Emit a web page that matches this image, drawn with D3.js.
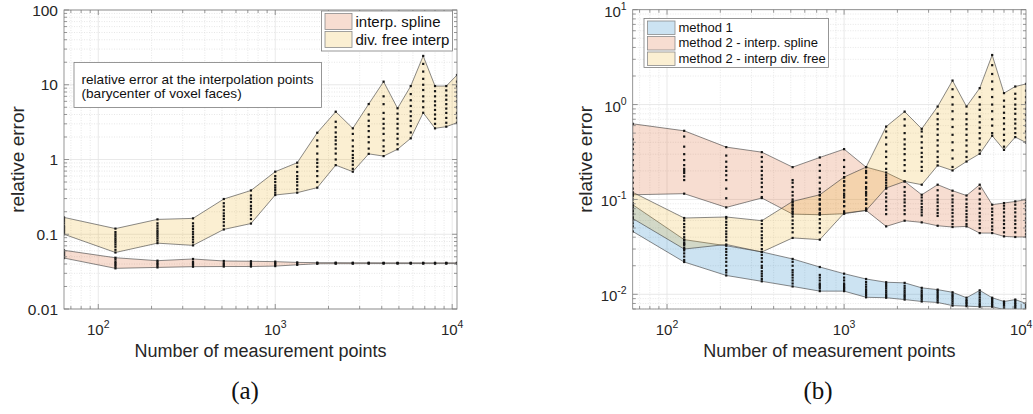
<!DOCTYPE html>
<html>
<head>
<meta charset="utf-8">
<script src="https://cdn.jsdelivr.net/npm/d3@7"></script>
<style>
body { margin: 0; background: #fff; }
svg { font-family: "Liberation Sans", Arial, Helvetica, sans-serif; }
</style>
</head>
<body>
<svg id="fig" width="1033" height="414"></svg>
<script>
// number of measurement points (k^3, k = 4..22)
var N = [64, 125, 216, 343, 512, 729, 1000, 1331, 1728, 2197, 2744, 3375, 4096, 4913, 5832, 6859, 8000, 9261, 10648];

// ---- panel (a) ----
var splineHi = [0.061, 0.0485, 0.0443, 0.0467, 0.0439, 0.0435, 0.043, 0.042, 0.0417, 0.0417, 0.0416, 0.0416, 0.0415, 0.0415, 0.0415, 0.0415, 0.0415, 0.0415, 0.0415];
var splineLo = [0.048, 0.035, 0.036, 0.0368, 0.037, 0.037, 0.0375, 0.039, 0.0403, 0.0404, 0.0404, 0.0405, 0.0405, 0.0405, 0.0405, 0.0405, 0.0405, 0.0405, 0.0405];
var splinePts = [
  [0.05, 0.052, 0.054, 0.056, 0.058], [0.037, 0.039, 0.041, 0.043, 0.046], [0.038, 0.04, 0.042], [0.039, 0.041, 0.043],
  [0.039, 0.041], [0.039, 0.041], [0.0395, 0.041], [0.0405], [0.041], [0.041], [0.041], [0.041], [0.041],
  [0.041], [0.041], [0.041], [0.041], [0.041], [0.041]
];
var divHi = [0.168, 0.119, 0.158, 0.163, 0.296, 0.385, 0.687, 0.906, 2.28, 4.36, 2.61, 5.52, 11.0, 4.84, 9.6, 24.3, 9.6, 9.6, 13.5];
var divLo = [0.100, 0.057, 0.076, 0.071, 0.116, 0.139, 0.335, 0.36, 0.42, 0.84, 0.687, 1.19, 1.11, 1.37, 1.92, 4.22, 2.61, 2.75, 3.1];
var divPts = [
  [0.105, 0.11, 0.115, 0.12, 0.125, 0.13, 0.14, 0.15, 0.16],
  [0.062, 0.068, 0.073, 0.078, 0.083, 0.088, 0.094, 0.1, 0.107],
  [0.082, 0.088, 0.094, 0.1, 0.106, 0.112, 0.12, 0.13, 0.14],
  [0.078, 0.085, 0.092, 0.1, 0.108, 0.118, 0.128, 0.14],
  [0.13, 0.145, 0.16, 0.175, 0.19, 0.21, 0.235, 0.26],
  [0.16, 0.18, 0.2, 0.22, 0.24, 0.27, 0.3, 0.33],
  [0.36, 0.39, 0.42, 0.45, 0.5, 0.55, 0.6],
  [0.4, 0.45, 0.5, 0.55, 0.6, 0.68, 0.8],
  [0.5, 0.6, 0.7, 0.8, 0.9, 1.0, 1.2, 1.5, 1.8],
  [1.0, 1.2, 1.4, 1.6, 1.8, 2.0, 2.3, 2.7, 3.2],
  [0.75, 0.85, 0.95, 1.05, 1.15, 1.3, 1.5, 1.8, 2.2],
  [1.4, 1.7, 2.0, 2.4, 2.8, 3.3, 4.0],
  [1.3, 1.5, 1.8, 2.2, 2.6, 3.0, 3.5, 4.2, 5.5, 7],
  [1.6, 1.9, 2.2, 2.6, 3.0, 3.5, 4.1],
  [2.3, 2.8, 3.3, 3.8, 4.4, 5.2, 6.2, 7.5],
  [5, 6, 7, 8.5, 10, 12, 15, 19],
  [3.0, 3.5, 4.0, 4.6, 5.3, 6.0, 7.0, 8.2],
  [3.1, 3.6, 4.2, 4.8, 5.5, 6.3, 7.2, 8.4],
  [3.6, 4.2, 5, 6, 7, 8, 9.5, 11]
];

// ---- panel (b) ----
var m1Hi = [0.088, 0.0377, 0.0325, 0.028, 0.0236, 0.0194, 0.0165, 0.0145, 0.0134, 0.0132, 0.0117, 0.0112, 0.0105, 0.0092, 0.011, 0.0092, 0.0084, 0.0088, 0.008];
var m1Lo = [0.046, 0.0219, 0.0158, 0.0137, 0.0121, 0.0108, 0.0108, 0.0093, 0.0092, 0.0088, 0.0084, 0.0082, 0.0076, 0.0075, 0.0074, 0.0074, 0.0069, 0.0069, 0.0069];
var m1Pts = [
  [0.052, 0.056, 0.06, 0.065, 0.07, 0.075, 0.082],
  [0.023, 0.025, 0.027, 0.029, 0.031, 0.033, 0.035],
  [0.017, 0.018, 0.02, 0.022, 0.024, 0.026, 0.028, 0.03],
  [0.0145, 0.0155, 0.0165, 0.0175, 0.019, 0.02, 0.022, 0.024, 0.026],
  [0.013, 0.014, 0.015, 0.016, 0.017, 0.018, 0.02, 0.022],
  [0.0115, 0.012, 0.0125, 0.013, 0.014, 0.015, 0.016],
  [0.0112, 0.0116, 0.012, 0.0125, 0.013, 0.014, 0.015],
  [0.0098, 0.0103, 0.0108, 0.0113, 0.012, 0.0127, 0.0135],
  [0.0096, 0.01, 0.0105, 0.011, 0.0116, 0.0122, 0.0128],
  [0.0092, 0.0096, 0.01, 0.0105, 0.011, 0.0116, 0.0123],
  [0.0088, 0.0092, 0.0096, 0.01, 0.0105, 0.011],
  [0.0086, 0.009, 0.0094, 0.0098, 0.0103, 0.0108],
  [0.008, 0.0084, 0.0088, 0.0092, 0.0096, 0.01],
  [0.0078, 0.0081, 0.0084, 0.0087],
  [0.0077, 0.008, 0.0084, 0.0088, 0.0093, 0.0099, 0.0104],
  [0.0077, 0.008, 0.0083, 0.0086, 0.0089],
  [0.0072, 0.0075, 0.0078, 0.0081],
  [0.0072, 0.0075, 0.0078, 0.0081, 0.0085],
  [0.0072, 0.0075, 0.0078]
];
var m2sHi = [0.627, 0.529, 0.356, 0.315, 0.219, 0.277, 0.339, 0.219, 0.192, 0.155, 0.112, 0.143, 0.1236, 0.110, 0.143, 0.088, 0.0916, 0.0953, 0.0993];
var m2sLo = [0.112, 0.115, 0.0824, 0.1035, 0.070, 0.069, 0.0707, 0.0766, 0.052, 0.0597, 0.0573, 0.0528, 0.0512, 0.052, 0.0442, 0.0442, 0.0408, 0.0402, 0.0402];
var m2sPts = [
  [0.13, 0.15, 0.17, 0.2, 0.23, 0.26, 0.3, 0.34, 0.38, 0.43],
  [0.16, 0.175, 0.19, 0.2, 0.21, 0.23, 0.26, 0.3, 0.36, 0.46],
  [0.103, 0.13, 0.16, 0.18, 0.2, 0.22, 0.25, 0.29],
  [0.106, 0.12, 0.135, 0.15, 0.165, 0.18, 0.2, 0.22, 0.25, 0.28],
  [0.075, 0.08, 0.086, 0.093, 0.1, 0.11, 0.12, 0.135, 0.15, 0.16],
  [0.072, 0.08, 0.09, 0.1, 0.11, 0.12, 0.13, 0.15, 0.17, 0.2, 0.23],
  [0.085, 0.095, 0.105, 0.115, 0.125, 0.14, 0.155, 0.17, 0.19, 0.22, 0.26],
  [0.08, 0.09, 0.1, 0.11, 0.12, 0.135, 0.15, 0.17, 0.19],
  [0.07, 0.078, 0.085, 0.095, 0.105, 0.115, 0.13, 0.15, 0.17],
  [0.07, 0.077, 0.085, 0.093, 0.1, 0.11, 0.12, 0.135],
  [0.068, 0.073, 0.078, 0.083, 0.09, 0.097, 0.105],
  [0.067, 0.072, 0.078, 0.085, 0.093, 0.1, 0.11, 0.125],
  [0.055, 0.06, 0.066, 0.072, 0.078, 0.085, 0.093, 0.1, 0.11],
  [0.055, 0.06, 0.065, 0.07, 0.076, 0.083, 0.09, 0.1],
  [0.05, 0.055, 0.06, 0.066, 0.072, 0.08, 0.09, 0.1, 0.115, 0.13],
  [0.048, 0.052, 0.057, 0.062, 0.068, 0.074, 0.08],
  [0.045, 0.05, 0.055, 0.06, 0.066, 0.073, 0.08, 0.086],
  [0.045, 0.05, 0.055, 0.06, 0.066, 0.073, 0.08, 0.088],
  [0.043, 0.047, 0.052, 0.057, 0.063, 0.07, 0.077, 0.085, 0.092]
];
var m2dHi = [0.119, 0.0637, 0.0653, 0.0597, 0.0953, 0.112, 0.172, 0.219, 0.586, 0.843, 0.555, 0.953, 1.79, 0.953, 1.49, 3.33, 1.32, 1.55, 1.65];
var m2dLo = [0.063, 0.030, 0.0335, 0.0279, 0.0393, 0.0377, 0.0717, 0.0766, 0.132, 0.155, 0.143, 0.228, 0.202, 0.251, 0.303, 0.469, 0.333, 0.454, 0.398];
var m2dPts = [
  [0.07, 0.075, 0.08, 0.086, 0.092, 0.1, 0.108, 0.115],
  [0.034, 0.037, 0.04, 0.043, 0.047, 0.051, 0.055, 0.06],
  [0.037, 0.04, 0.043, 0.046, 0.05, 0.054, 0.058, 0.063],
  [0.03, 0.033, 0.036, 0.039, 0.042, 0.046, 0.05, 0.055],
  [0.045, 0.05, 0.055, 0.06, 0.066, 0.073, 0.08, 0.088],
  [0.045, 0.05, 0.056, 0.062, 0.07, 0.078, 0.088, 0.1],
  [0.075, 0.085, 0.095, 0.11, 0.125, 0.14, 0.155],
  [0.08, 0.09, 0.1, 0.115, 0.13, 0.15, 0.17, 0.2],
  [0.14, 0.16, 0.18, 0.21, 0.24, 0.28, 0.32, 0.38, 0.45, 0.52],
  [0.2, 0.23, 0.26, 0.3, 0.34, 0.38, 0.43, 0.5, 0.6, 0.7],
  [0.2, 0.22, 0.25, 0.28, 0.31, 0.35, 0.4, 0.46, 0.52],
  [0.25, 0.28, 0.32, 0.37, 0.42, 0.48, 0.55, 0.62, 0.7, 0.8],
  [0.22, 0.27, 0.33, 0.4, 0.48, 0.58, 0.7, 0.85, 1.0, 1.2, 1.45],
  [0.28, 0.32, 0.37, 0.42, 0.48, 0.55, 0.62, 0.7, 0.8],
  [0.33, 0.38, 0.44, 0.5, 0.57, 0.65, 0.75, 0.88, 1.0, 1.2],
  [0.5, 0.6, 0.7, 0.85, 1.0, 1.2, 1.45, 1.75, 2.1, 2.6],
  [0.36, 0.42, 0.48, 0.55, 0.63, 0.72, 0.82, 0.95, 1.1],
  [0.5, 0.56, 0.63, 0.7, 0.8, 0.9, 1.0, 1.15, 1.3],
  [0.45, 0.52, 0.6, 0.68, 0.78, 0.9, 1.05, 1.2, 1.4]
];

// tick labels
var xTickVals = [100, 1000, 10000];
var xTickExp = ["2", "3", "4"];
var yTickValsA = [0.01, 0.1, 1, 10, 100];
var yTickLabA = ["0.01", "0.1", "1", "10", "100"];
var yTickValsB = [0.01, 0.1, 1, 10];
var yTickExpB = ["-2", "-1", "0", "1"];

var FILL = {
  blue: "rgba(0,114,189,0.2)",
  orange: "rgba(217,83,25,0.2)",
  yellow: "rgba(237,177,32,0.2)"
};
var TXT = "#262626";

var svg = d3.select("#fig");
var defs = svg.append("defs");

function logSteps(dom) {
  var lo = dom[0], hi = dom[1], major = [], minor = [];
  for (var e = Math.floor(Math.log10(lo)) - 1; e <= Math.ceil(Math.log10(hi)); e++) {
    for (var m = 1; m < 10; m++) {
      var t = +(m * Math.pow(10, e)).toPrecision(6);
      if (t < lo * 0.9999 || t > hi * 1.0001) continue;
      if (m == 1) major.push(t); else minor.push(t);
    }
  }
  return {major: major, minor: minor};
}

function drawPanel(p) {
  var g = svg.append("g");
  var x = d3.scaleLog().domain([N[0], N[N.length - 1]]).range([p.left, p.right]);
  var y = d3.scaleLog().domain(p.ydom).range([p.bottom, p.top]);
  var xs = logSteps(x.domain()), ys = logSteps(y.domain());

  // grid
  var grid = g.append("g");
  grid.selectAll(".xm").data(xs.minor).enter().append("line")
    .attr("x1", function (d) { return x(d); }).attr("x2", function (d) { return x(d); })
    .attr("y1", p.top).attr("y2", p.bottom)
    .attr("stroke", "#d6d6d6").attr("stroke-width", 0.6).attr("stroke-dasharray", "1,1.5");
  grid.selectAll(".ym").data(ys.minor).enter().append("line")
    .attr("y1", function (d) { return y(d); }).attr("y2", function (d) { return y(d); })
    .attr("x1", p.left).attr("x2", p.right)
    .attr("stroke", "#d6d6d6").attr("stroke-width", 0.6).attr("stroke-dasharray", "1,1.5");
  grid.selectAll(".xM").data(xs.major).enter().append("line")
    .attr("x1", function (d) { return x(d); }).attr("x2", function (d) { return x(d); })
    .attr("y1", p.top).attr("y2", p.bottom)
    .attr("stroke", "#e3e3e3").attr("stroke-width", 0.8);
  grid.selectAll(".yM").data(ys.major).enter().append("line")
    .attr("y1", function (d) { return y(d); }).attr("y2", function (d) { return y(d); })
    .attr("x1", p.left).attr("x2", p.right)
    .attr("stroke", "#e3e3e3").attr("stroke-width", 0.8);

  // clip
  defs.append("clipPath").attr("id", p.id + "clip").append("rect")
    .attr("x", p.left).attr("y", p.top).attr("width", p.right - p.left).attr("height", p.bottom - p.top);
  var plot = g.append("g").attr("clip-path", "url(#" + p.id + "clip)");

  var area = d3.area()
    .x(function (d) { return x(d.n); })
    .y0(function (d) { return y(d.lo); })
    .y1(function (d) { return y(d.hi); });

  p.series.forEach(function (s) {
    var rows = N.map(function (n, i) { return {n: n, lo: s.lo[i], hi: s.hi[i]}; });
    plot.append("path").datum(rows)
      .attr("d", area)
      .attr("fill", s.fill)
      .attr("stroke", "#3a3a3a").attr("stroke-width", 0.6).attr("stroke-linejoin", "round");
  });
  p.series.forEach(function (s) {
    var dots = [];
    N.forEach(function (n, i) {
      [s.lo[i], s.hi[i]].concat(s.pts[i]).forEach(function (v) { dots.push({n: n, v: v}); });
    });
    plot.selectAll(null).data(dots).enter().append("rect")
      .attr("x", function (d) { return x(d.n) - 1.1; })
      .attr("y", function (d) { return y(d.v) - 1.1; })
      .attr("width", 2.2).attr("height", 2.2)
      .attr("fill", "#141414");
  });

  // box + ticks
  var ax = g.append("g").attr("stroke", "#7d7d7d").attr("stroke-width", 0.8);
  ax.append("rect").attr("x", p.left).attr("y", p.top)
    .attr("width", p.right - p.left).attr("height", p.bottom - p.top).attr("fill", "none");
  function xt(vals, len) {
    vals.forEach(function (v) {
      ax.append("line").attr("x1", x(v)).attr("x2", x(v)).attr("y1", p.bottom).attr("y2", p.bottom - len);
      ax.append("line").attr("x1", x(v)).attr("x2", x(v)).attr("y1", p.top).attr("y2", p.top + len);
    });
  }
  function yt(vals, len) {
    vals.forEach(function (v) {
      ax.append("line").attr("y1", y(v)).attr("y2", y(v)).attr("x1", p.left).attr("x2", p.left + len);
      ax.append("line").attr("y1", y(v)).attr("y2", y(v)).attr("x1", p.right).attr("x2", p.right - len);
    });
  }
  xt(xs.major, 5); xt(xs.minor, 3);
  yt(ys.major, 5); yt(ys.minor, 3);

  // x tick labels (10^k)
  xTickVals.forEach(function (v, i) {
    var t = g.append("text").attr("x", x(v)).attr("y", p.bottom + 26)
      .attr("text-anchor", "middle").attr("fill", TXT).style("font-size", "15px");
    t.append("tspan").text("10");
    t.append("tspan").attr("dy", -7).style("font-size", "10.5px").text(xTickExp[i]);
  });

  // y tick labels
  p.yTickVals.forEach(function (v, i) {
    var t = g.append("text").attr("x", p.left - 6).attr("y", y(v) + (p.yExp ? 7 : 5.5))
      .attr("text-anchor", "end").attr("fill", TXT).style("font-size", "15.5px");
    if (p.yExp) {
      t.style("font-size", "15px");
      t.append("tspan").text("10");
      t.append("tspan").attr("dy", -7).style("font-size", "10.5px").text(p.yExp[i]);
    } else {
      t.text(p.yTickLab[i]);
    }
  });

  // axis titles
  g.append("text").attr("x", (p.left + p.right) / 2).attr("y", p.bottom + 48)
    .attr("text-anchor", "middle").attr("fill", TXT).style("font-size", "18px")
    .text("Number of measurement points");
  g.append("text")
    .attr("transform", "translate(" + (p.left - p.ytitleOff) + "," + ((p.top + p.bottom) / 2) + ") rotate(-90)")
    .attr("text-anchor", "middle").attr("fill", TXT).style("font-size", "19px")
    .text("relative error");

  // legend
  var L = p.legend;
  var lg = g.append("g");
  lg.append("rect").attr("x", L.x).attr("y", L.y).attr("width", L.w).attr("height", L.h)
    .attr("fill", "#fff").attr("stroke", "#7d7d7d").attr("stroke-width", 0.8);
  p.series.forEach(function (s, i) {
    var yy = L.y + L.pad + i * L.row;
    lg.append("rect").attr("x", L.x + 3.5).attr("y", yy).attr("width", L.sw).attr("height", L.row - 2)
      .attr("fill", s.fill).attr("stroke", "#8a8a8a").attr("stroke-width", 0.8);
    lg.append("text").attr("x", L.x + L.sw + 7).attr("y", yy + L.row - 5)
      .attr("fill", "#111").style("font-size", L.fs + "px").text(s.name);
  });

  // caption
  g.append("text").attr("x", p.capX).attr("y", 399).attr("text-anchor", "middle")
    .style("font-family", "'Liberation Serif', 'Times New Roman', serif").style("font-size", "25px")
    .attr("fill", "#111").text(p.caption);
  return g;
}

var ga = drawPanel({
  id: "a", left: 64, right: 457, top: 10, bottom: 309, ydom: [0.01, 100],
  yTickVals: yTickValsA, yTickLab: yTickLabA, ytitleOff: 40,
  series: [
    {name: "interp. spline", lo: splineLo, hi: splineHi, pts: splinePts, fill: FILL.orange},
    {name: "div. free interp", lo: divLo, hi: divHi, pts: divPts, fill: FILL.yellow}
  ],
  legend: {x: 321.5, y: 11, w: 131, h: 40, pad: 2.5, row: 18, sw: 27, fs: 15},
  caption: "(a)", capX: 245
});

// annotation box in panel (a)
var note = ga.append("g");
note.append("rect").attr("x", 74).attr("y", 62.5).attr("width", 247.5).attr("height", 45)
  .attr("fill", "#fff").attr("stroke", "#7d7d7d").attr("stroke-width", 0.8);
note.append("text").attr("x", 81.5).attr("y", 84).attr("fill", "#111").style("font-size", "13.6px")
  .text("relative error at the interpolation points");
note.append("text").attr("x", 81.5).attr("y", 98).attr("fill", "#111").style("font-size", "13.6px")
  .text("(barycenter of voxel faces)");

drawPanel({
  id: "b", left: 632.7, right: 1026, top: 9.7, bottom: 309, ydom: [0.007, 10],
  yTickVals: yTickValsB, yExp: yTickExpB, ytitleOff: 41,
  series: [
    {name: "method 1", lo: m1Lo, hi: m1Hi, pts: m1Pts, fill: FILL.blue},
    {name: "method 2 - interp. spline", lo: m2sLo, hi: m2sHi, pts: m2sPts, fill: FILL.orange},
    {name: "method 2 - interp div. free", lo: m2dLo, hi: m2dHi, pts: m2dPts, fill: FILL.yellow}
  ],
  legend: {x: 644, y: 18.5, w: 184.5, h: 49, pad: 2.5, row: 15.5, sw: 27.5, fs: 13},
  caption: "(b)", capX: 818
});
</script>
</body>
</html>
